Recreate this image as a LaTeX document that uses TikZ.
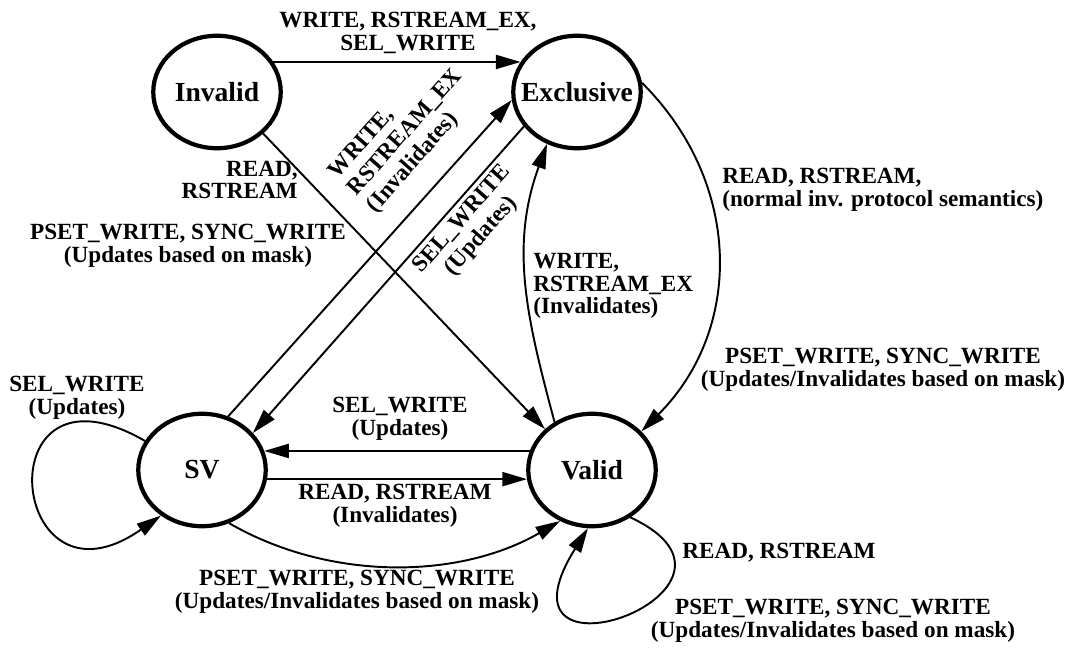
\documentclass[tikz,border=0pt]{standalone}
\usepackage{fontspec}
\setmainfont{Liberation Serif}
\usetikzlibrary{arrows.meta,shapes.geometric}

\begin{document}
\begin{tikzpicture}[x=0.02cm,y=0.02cm,
    state/.style={ellipse,draw,line width=2.4pt,minimum width=2.55cm,minimum height=2.25cm,
      inner xsep=-8pt,inner ysep=0pt,font=\fontsize{15.7}{18}\selectfont\bfseries},
    trans/.style={line width=1.1pt,-{Triangle[length=14pt,width=8pt]}},
    lbl/.style={inner sep=0pt,font=\fontsize{13.2}{13}\selectfont\bfseries},
    rlbl/.style={lbl,rotate=48.5,font=\fontsize{13.2}{14.5}\selectfont\bfseries}]
  \useasboundingbox (0,0) rectangle (1074,648);
  % states
  \node[state] (inv) at (217,556) {Invalid};
  \node[state] (exc) at (577,556) {Exclusive};
  \node[state] (sv) at (202,178) {SV};
  \node[state] (val) at (592,178) {Valid};
  % transitions
  \draw[trans] (inv.28) -- (exc.152);
  \draw[trans] (inv.-42) -- (val.139);
  \draw[trans] (sv.64) -- (exc.187);
  \draw[trans] (exc.213) -- (sv.36);
  \draw[trans] (val.128) to[out=105,in=-110] (exc.240);
  \draw[trans] (exc.8) to[out=-45,in=45,looseness=1.05] (val.38);
  \draw[trans] (val.163) -- (sv.17);
  \draw[trans] (sv.-8) -- (val.188);
  \draw[trans] (sv.-63) to[out=-30,in=-150,looseness=0.9] (val.238);
  \draw[trans] (sv.153) .. controls +(150:187) and +(215:187) .. (sv.228);
  \draw[trans] (val.-51) .. controls +(-25:170) and +(238:200) .. (val.-94);
  % labels
  \node[lbl,align=center] (l_ie) at (408,615) {WRITE, RSTREAM\_EX,\\SEL\_WRITE};
  \node[lbl,align=right,anchor=east] (l_iv) at (298,468) {READ,\\RSTREAM};
  \node[lbl,align=center] (l_mask) at (188,402) {PSET\_WRITE, SYNC\_WRITE\\(Updates based on mask)};
  \node[rlbl,align=left] (l_se) at (406,515) {WRITE,\\RSTREAM\_EX\\(Invalidates)};
  \node[rlbl,align=center] (l_es) at (472,420) {SEL\_WRITE\\(Updates)};
  \node[lbl,align=left,anchor=west] (l_ve) at (533,362) {WRITE,\\RSTREAM\_EX\\(Invalidates)};
  \node[lbl,align=left,anchor=west] (l_ev) at (722,458) {READ, RSTREAM,\\(normal inv. protocol semantics)};
  \node[lbl,align=center] (l_ev2) at (883,278) {PSET\_WRITE, SYNC\_WRITE\\(Updates/Invalidates based on mask)};
  \node[lbl,align=center] (l_vs) at (400,229) {SEL\_WRITE\\(Updates)};
  \node[lbl,align=center] (l_sv) at (395,142) {READ, RSTREAM\\(Invalidates)};
  \node[lbl,align=center] (l_sv2) at (357,56) {PSET\_WRITE, SYNC\_WRITE\\(Updates/Invalidates based on mask)};
  \node[lbl,align=center] (l_ss) at (77,250) {SEL\_WRITE\\(Updates)};
  \node[lbl,anchor=west] (l_vv) at (682,95) {READ, RSTREAM};
  \node[lbl,align=center] (l_vv2) at (833,27) {PSET\_WRITE, SYNC\_WRITE\\(Updates/Invalidates based on mask)};
\end{tikzpicture}
\end{document}
